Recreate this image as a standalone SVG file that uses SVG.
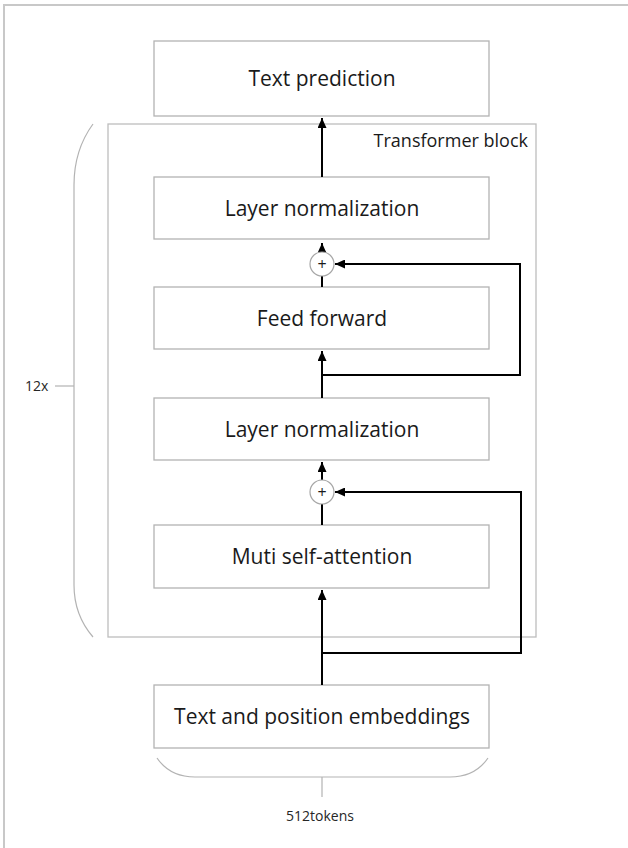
<svg xmlns="http://www.w3.org/2000/svg" width="628" height="848" viewBox="0 0 628 848">
  <defs>
    <marker id="arrow" markerUnits="userSpaceOnUse" markerWidth="10" markerHeight="9" refX="10" refY="4.5" orient="auto">
      <path d="M0,0 L10,4.5 L0,9 z" fill="#000"/>
    </marker>
    <style>
      .box { fill: #fff; stroke: #b3b3b3; stroke-width: 1.3; }
      .lbl { font-family: "Open Sans", "Noto Sans", sans-serif; font-size: 21px; fill: #1a1a1a; text-anchor: middle; }
      .small { font-family: "Open Sans", "Noto Sans", sans-serif; font-size: 14px; fill: #262626; }
      .brace { fill: none; stroke: #b3b3b3; stroke-width: 1.2; }
      .conn { fill: none; stroke: #000; stroke-width: 2; }
      .sum { fill: #fff; stroke: #a6a6a6; stroke-width: 1.2; }
    </style>
  </defs>

  <rect width="628" height="848" fill="#fff"/>
  <!-- page frame (top and left edges) -->
  <path d="M4,848 V5 H628" fill="none" stroke="#c8c8c8" stroke-width="2"/>

  <!-- transformer block container -->
  <g id="transformer-block">
    <rect x="108" y="124" width="428" height="513" fill="none" stroke="#bdbdbd" stroke-width="1.3"/>
    <text x="528" y="147" font-family="'Open Sans', 'Noto Sans', sans-serif" font-size="18" fill="#1a1a1a" text-anchor="end">Transformer block</text>
  </g>

  <!-- repetition brace -->
  <g id="repeat-brace">
    <path class="brace" d="M93,124 Q74,150 74,185 L74,585 Q74,615 93,637"/>
    <path class="brace" d="M74,386 H55"/>
    <text class="small" x="25" y="391">12x</text>
  </g>

  <!-- token brace -->
  <g id="token-brace">
    <path class="brace" d="M157,758 Q170,777 195,777 H450 Q475,777 488,758"/>
    <path class="brace" d="M322,777 V797"/>
    <text class="small" x="320" y="821" text-anchor="middle">512tokens</text>
  </g>

  <g id="text-prediction">
    <rect class="box" x="154" y="41" width="335" height="75"/>
    <text class="lbl" x="322" y="86">Text prediction</text>
  </g>

  <g id="layer-norm-2">
    <rect class="box" x="154" y="177" width="335" height="62"/>
    <text class="lbl" x="322" y="215.5">Layer normalization</text>
  </g>

  <g id="feed-forward">
    <rect class="box" x="154" y="287" width="335" height="62"/>
    <text class="lbl" x="322" y="325.5">Feed forward</text>
  </g>

  <g id="layer-norm-1">
    <rect class="box" x="154" y="398" width="335" height="62"/>
    <text class="lbl" x="322" y="436.5">Layer normalization</text>
  </g>

  <g id="self-attention">
    <rect class="box" x="154" y="525" width="335" height="63"/>
    <text class="lbl" x="322" y="564">Muti self-attention</text>
  </g>

  <g id="embeddings">
    <rect class="box" x="154" y="685" width="335" height="63"/>
    <text class="lbl" x="322" y="724">Text and position embeddings</text>
  </g>

  <g id="connectors">
    <path class="conn" d="M322,685 V590" marker-end="url(#arrow)"/>
    <path class="conn" d="M322,653 H521 V492 H335" marker-end="url(#arrow)"/>
    <path class="conn" d="M322,525 V504"/>
    <path class="conn" d="M322,480 V462" marker-end="url(#arrow)"/>
    <path class="conn" d="M322,398 V351" marker-end="url(#arrow)"/>
    <path class="conn" d="M322,375 H520 V264 H335" marker-end="url(#arrow)"/>
    <path class="conn" d="M322,287 V276"/>
    <path class="conn" d="M322,252 V243" marker-end="url(#arrow)"/>
    <path class="conn" d="M322,177 V118" marker-end="url(#arrow)"/>
  </g>

  <g id="add-2">
    <circle class="sum" cx="322" cy="264" r="12"/>
    <text x="322" y="269.5" font-family="'Open Sans', sans-serif" font-size="16" fill="#1a1a1a" text-anchor="middle">+</text>
  </g>

  <g id="add-1">
    <circle class="sum" cx="322" cy="492" r="12"/>
    <text x="322" y="497.5" font-family="'Open Sans', sans-serif" font-size="16" fill="#1a1a1a" text-anchor="middle">+</text>
  </g>
</svg>
